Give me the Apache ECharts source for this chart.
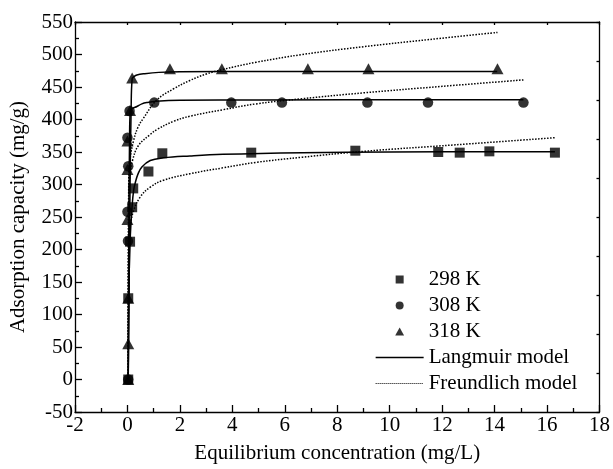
<!DOCTYPE html>
<html>
<head>
<meta charset="utf-8">
<script src="https://cdn.jsdelivr.net/npm/echarts@6/dist/echarts.min.js"></script>
<style>
	html, body { margin: 0; padding: 0; background: #fff; }
	#chart { width: 613px; height: 469px; }
</style>
</head>
<body>
<div id="chart"></div>
<script>
	// experimental points (Ce, qe)
	var c298 = [0.03, 0.03, 0.1, 0.18, 0.22, 0.8, 1.33, 4.72, 8.69, 11.85, 12.67, 13.8, 16.3]
	var q298 = [0, 125, 212, 265, 294, 320, 348, 349, 352, 350, 349, 351, 349]
	var c308 = [0.03, 0.02, 0.0, 0.03, 0.0, 0.08, 1.02, 3.96, 5.89, 9.15, 11.46, 15.1]
	var q308 = [0, 213, 258, 328, 372, 413, 426, 426, 426, 426, 426, 426]
	var c318 = [0.03, 0.03, 0.03, 0.0, 0.0, 0.0, 0.1, 0.18, 1.62, 3.6, 6.88, 9.19, 14.11]
	var q318 = [0, 55, 125, 246, 323, 367, 414, 464, 478, 478, 478, 478, 478]

	// Langmuir fit curves
	var lc298 = [0.03, 0.05, 0.1, 0.18, 0.24, 0.3, 0.4, 0.55, 0.87, 1.37, 2.38, 3.64, 6.67, 10, 16.3]
	var lq298 = [0, 125, 212, 268, 292, 303, 316, 327, 337, 341, 344, 346.5, 349, 350, 350.5]
	var lc308 = [0.03, 0.05, 0.08, 0.11, 0.2, 0.36, 0.55, 0.74, 1.1, 2, 5, 15.1]
	var lq308 = [0, 210, 370, 414, 417, 420, 424, 426, 428, 429.5, 430, 430.5]
	var lc318 = [0.03, 0.06, 0.1, 0.14, 0.18, 0.25, 0.36, 0.66, 1.2, 2, 5, 14.1]
	var lq318 = [0, 125, 300, 415, 463, 466, 468.5, 470.5, 472.5, 473.5, 473.7, 473.7]

	// Freundlich fit curves
	var fc298 = [0.03, 0.05, 0.1, 0.23, 0.49, 0.87, 1.37, 2.38, 3.64, 4.9, 6.67, 9, 12.5, 16.3]
	var fq298 = [0, 215, 235, 259, 281, 296, 306.5, 316.5, 325.6, 334, 342, 351, 361, 372]
	var fc308 = [0.03, 0.05, 0.1, 0.2, 0.42, 0.87, 1.12, 1.75, 2.38, 3.64, 4.9, 6.67, 9, 12, 15.12]
	var fq308 = [0, 290, 315, 338, 360, 377, 384.5, 397, 405, 415, 424, 432, 441, 451, 461]
	var fc318 = [0.03, 0.05, 0.1, 0.23, 0.4, 0.61, 1.12, 1.75, 2.38, 3.01, 3.64, 4.9, 6.67, 9, 11.5, 14.11]
	var fq318 = [0, 315, 340, 367, 388, 402, 430, 447, 460, 470, 477, 488, 500, 512, 523, 534]

	var font = 'Liberation Serif'
	var black = '#000'
	var dots = [1.5, 1.5]

	function pairs(xs, ys) {
		return xs.map(function (x, i) { return [x, ys[i]] })
	}

	function points(name, xs, ys, symbol, size) {
		return {
			name: name,
			type: 'scatter',
			symbol: symbol,
			symbolSize: size,
			itemStyle: { color: black },
			z: 5,
			data: pairs(xs, ys)
		}
	}

	function curve(name, xs, ys, dotted) {
		return {
			name: name,
			type: 'line',
			symbol: 'none',
			smooth: 0.4,
			lineStyle: {
				color: black,
				width: dotted ? 1.5 : 1.5,
				type: dotted ? dots : 'solid'
			},
			itemStyle: { color: black },
			z: 3,
			data: pairs(xs, ys)
		}
	}

	var axisLine = { show: true, onZero: false, lineStyle: { color: black, width: 1.3 } }
	var tickStyle = { color: black, width: 1.3 }

	var option = {
		animation: false,
		backgroundColor: '#fff',
		grid: {
			left: 73,
			right: 12,
			top: 22,
			bottom: 50
		},
		legend: {
			orient: 'vertical',
			left: 370,
			top: 264,
			itemWidth: 48,
			itemHeight: 8,
			itemGap: 5,
			// paths keep their aspect inside the wide legend box;
			// the model entries only show their line
			data: [
				{ name: '298 K', icon: 'path://M0,0H10V10H0Z' },
				{ name: '308 K', icon: 'circle' },
				{ name: '318 K', icon: 'path://M5,0L10,9H0Z' },
				{ name: 'Langmuir model', itemStyle: { opacity: 0 }, lineStyle: { width: 1.3, type: 'solid', color: black } },
				{ name: 'Freundlich model', itemStyle: { opacity: 0 }, lineStyle: { width: 1.1, type: [1, 1], color: black } }
			],
			textStyle: { color: black, fontSize: 21, fontFamily: font }
		},
		xAxis: [{
				type: 'value',
				position: 'bottom',
				min: -2,
				max: 18,
				interval: 2,
				axisLine: axisLine,
				axisTick: { inside: true, length: 7, lineStyle: tickStyle },
				minorTick: { show: true, splitNumber: 2, length: 4, lineStyle: tickStyle },
				splitLine: { show: false },
				axisLabel: { color: black, fontSize: 21, fontFamily: font, margin: 3 },
				name: 'Equilibrium concentration (mg/L)',
				nameLocation: 'middle',
				nameGap: 31,
				nameTextStyle: { color: black, fontSize: 21, fontFamily: font }
			},
			{
				type: 'value',
				position: 'top',
				min: -2,
				max: 18,
				interval: 2,
				axisLine: axisLine,
				axisTick: { inside: true, length: 3, lineStyle: tickStyle },
				splitLine: { show: false },
				axisLabel: { show: false }
			}
		],
		yAxis: [{
				type: 'value',
				position: 'left',
				min: -50,
				max: 550,
				interval: 50,
				axisLine: axisLine,
				axisTick: { inside: true, length: 7, lineStyle: tickStyle },
				minorTick: { show: true, splitNumber: 2, length: 4, lineStyle: tickStyle },
				splitLine: { show: false },
				axisLabel: { color: black, fontSize: 21, fontFamily: font, margin: 2 },
				name: 'Adsorption capacity (mg/g)',
				nameLocation: 'middle',
				nameGap: 46,
				nameTextStyle: { color: black, fontSize: 21, fontFamily: font }
			},
			{
				type: 'value',
				position: 'right',
				min: -50,
				max: 550,
				interval: 60,
				axisLine: axisLine,
				axisTick: { inside: true, length: 3, lineStyle: tickStyle },
				splitLine: { show: false },
				axisLabel: { show: false }
			}
		],
		series: [
			curve('Langmuir model', lc298, lq298, false),
			curve('Langmuir model', lc308, lq308, false),
			curve('Langmuir model', lc318, lq318, false),
			curve('Freundlich model', fc298, fq298, true),
			curve('Freundlich model', fc308, fq308, true),
			curve('Freundlich model', fc318, fq318, true),
			points('298 K', c298, q298, 'rect', 10),
			points('308 K', c308, q308, 'circle', 10.5),
			points('318 K', c318, q318, 'triangle', [12, 11])
		]
	}

	var chart = echarts.init(document.getElementById('chart'))
	chart.setOption(option)
	window.addEventListener('resize', function () { chart.resize() })
</script>
</body>
</html>
